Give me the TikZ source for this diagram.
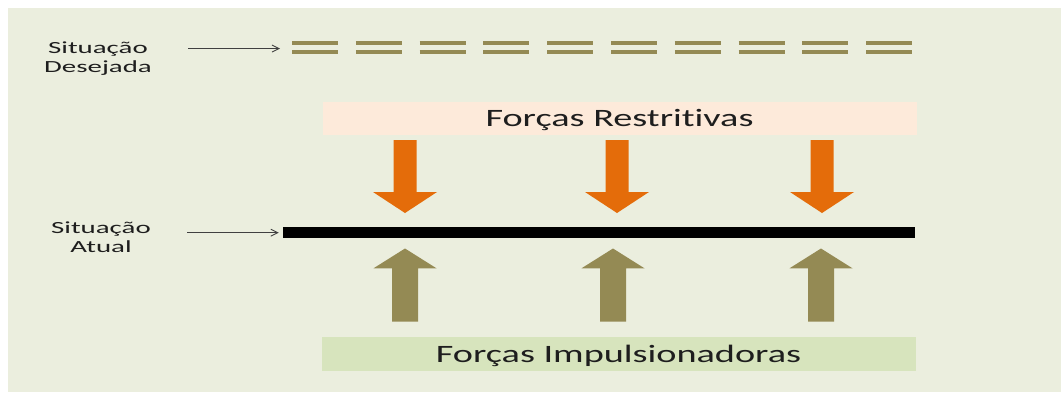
\documentclass[tikz,border=0pt]{standalone}
\usepackage{fontspec}
\usepackage{xcolor}
\usepackage{tikz}
\usetikzlibrary{arrows.meta,calc}
\setmainfont{Carlito}
\newfontfamily\rotulofont[FakeStretch=1.7,Ligatures=NoCommon]{Carlito}
\newfontfamily\faixafont[FakeStretch=1.53,Ligatures=NoCommon]{Carlito}
\definecolor{fundo}{RGB}{235,238,222}
\definecolor{rosa}{RGB}{253,234,218}
\definecolor{verdeclaro}{RGB}{215,228,189}
\definecolor{laranja}{RGB}{228,108,10}
\definecolor{oliva}{RGB}{148,138,84}
\definecolor{texto}{RGB}{30,30,30}

\begin{document}
\begin{tikzpicture}[x=1pt,y=-1pt,
		rotulo/.style={align=center,inner sep=0pt,text=texto,font=\rotulofont\fontsize{17}{19.5}\selectfont},
		faixa/.style={minimum width=594pt,minimum height=33.5pt,inner sep=0pt,text height=16pt,text depth=0pt,text=texto,font=\faixafont\fontsize{25}{30}\selectfont},
		seta fina/.style={draw=black!75,line width=0.9pt,-{Straight Barb[length=7pt,width=7pt]}}]
		\useasboundingbox (0,0) rectangle (1061,392);
		\fill[fundo] (8,8) rectangle (1061,392);

		% situacao desejada
		\node[rotulo] (desejada) at (98,58.5) {Situação\\Desejada};
		\coordinate (meta) at (280,48.5);
		\foreach \i in {0,...,9}{
			\draw[oliva,line width=4pt] (292+63.8*\i,42.5) -- ++(46,0);
			\draw[oliva,line width=4pt] (292+63.8*\i,52) -- ++(46,0);
		}
		\draw[seta fina] ($(desejada.east |- meta)+(36,0)$) -- (meta);

		% situacao atual
		\node[rotulo] (atual) at (101,237) {Situação\\Atual};
		\node[fill=black,minimum width=632pt,minimum height=11pt,inner sep=0pt] (barra) at (599,232.7) {};
		\draw[seta fina] ($(atual.east |- barra.west)+(36,0)$) -- ([xshift=-4pt]barra.west);

		% forcas
		\node[faixa,fill=rosa] (restritivas) at (619.5,118.5) {Forças Restritivas};
		\node[faixa,fill=verdeclaro] (impulsionadoras) at (618.5,354) {Forças Impulsionadoras};

		\foreach \x in {405,617,822}
			\fill[laranja] (\x-11.5,140) -- (\x+11.5,140) -- (\x+11.5,192) -- (\x+32,192)
				-- (\x,213) -- (\x-32,192) -- (\x-11.5,192) -- cycle;
		\foreach \x in {405,613,821}
			\fill[oliva] (\x-13,321.7) -- (\x+13,321.7) -- (\x+13,268.3) -- (\x+31.5,268.3)
				-- (\x,248.5) -- (\x-31.5,268.3) -- (\x-13,268.3) -- cycle;
	\end{tikzpicture}
\end{document}
